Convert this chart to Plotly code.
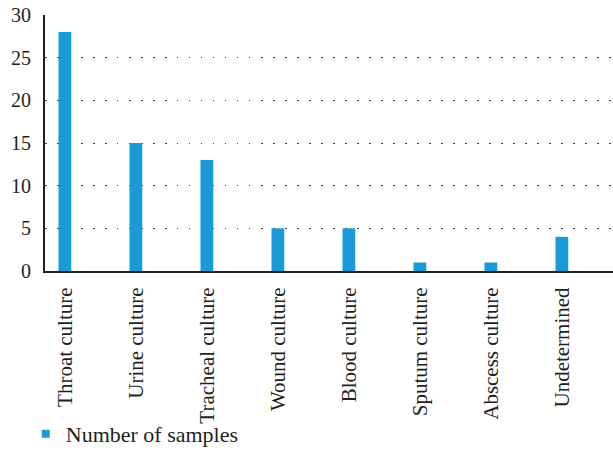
import plotly.graph_objects as go

categories = ["Throat culture", "Urine culture", "Tracheal culture", "Wound culture",
              "Blood culture", "Sputum culture", "Abscess culture", "Undetermined"]
samples = [28, 15, 13, 5, 5, 1, 1, 4]
y_ticks = [0, 5, 10, 15, 20, 25, 30]
series_name = "Number of samples"
bar_color = "#1a9bd7"

fig = go.Figure()
fig.add_trace(go.Bar(x=categories, y=samples, name=series_name, showlegend=False,
                     marker=dict(color=bar_color, line=dict(width=0))))
# legend entry with a small square symbol
fig.add_trace(go.Scatter(x=[None], y=[None], mode="markers", name=series_name,
                         marker=dict(symbol="square", size=8, color=bar_color)))

font_family = "'Liberation Serif', 'Times New Roman', 'DejaVu Serif', serif"
fig.update_layout(
    width=613, height=455,
    margin=dict(l=45, r=0, t=15, b=184),
    paper_bgcolor="white", plot_bgcolor="white",
    bargap=0.82,
    font=dict(family=font_family, size=20, color="#231f20"),
    showlegend=True,
    legend=dict(orientation="h", xref="container", yref="container",
                x=0.042, y=0.0, xanchor="left", yanchor="bottom",
                font=dict(family=font_family, size=22), itemwidth=30,
                bgcolor="rgba(0,0,0,0)"),
    xaxis=dict(tickangle=-90, showgrid=False, showline=True, linecolor="#231f20",
               linewidth=2, ticks="", ticklabelstandoff=6, zeroline=False,
               automargin=False, tickfont=dict(size=21), range=[-0.28, 7.72]),
    yaxis=dict(range=[0, 30], tickvals=y_ticks, showgrid=True, gridcolor="#444444",
               griddash="1.5px,10.5px", gridwidth=1.3, showline=True, linecolor="#231f20",
               linewidth=2, ticks="", zeroline=False, ticklabelstandoff=8,
               automargin=False),
)
fig.write_html("out.html", config={"displayModeBar": False},
               post_script="document.body.style.margin='0';")
